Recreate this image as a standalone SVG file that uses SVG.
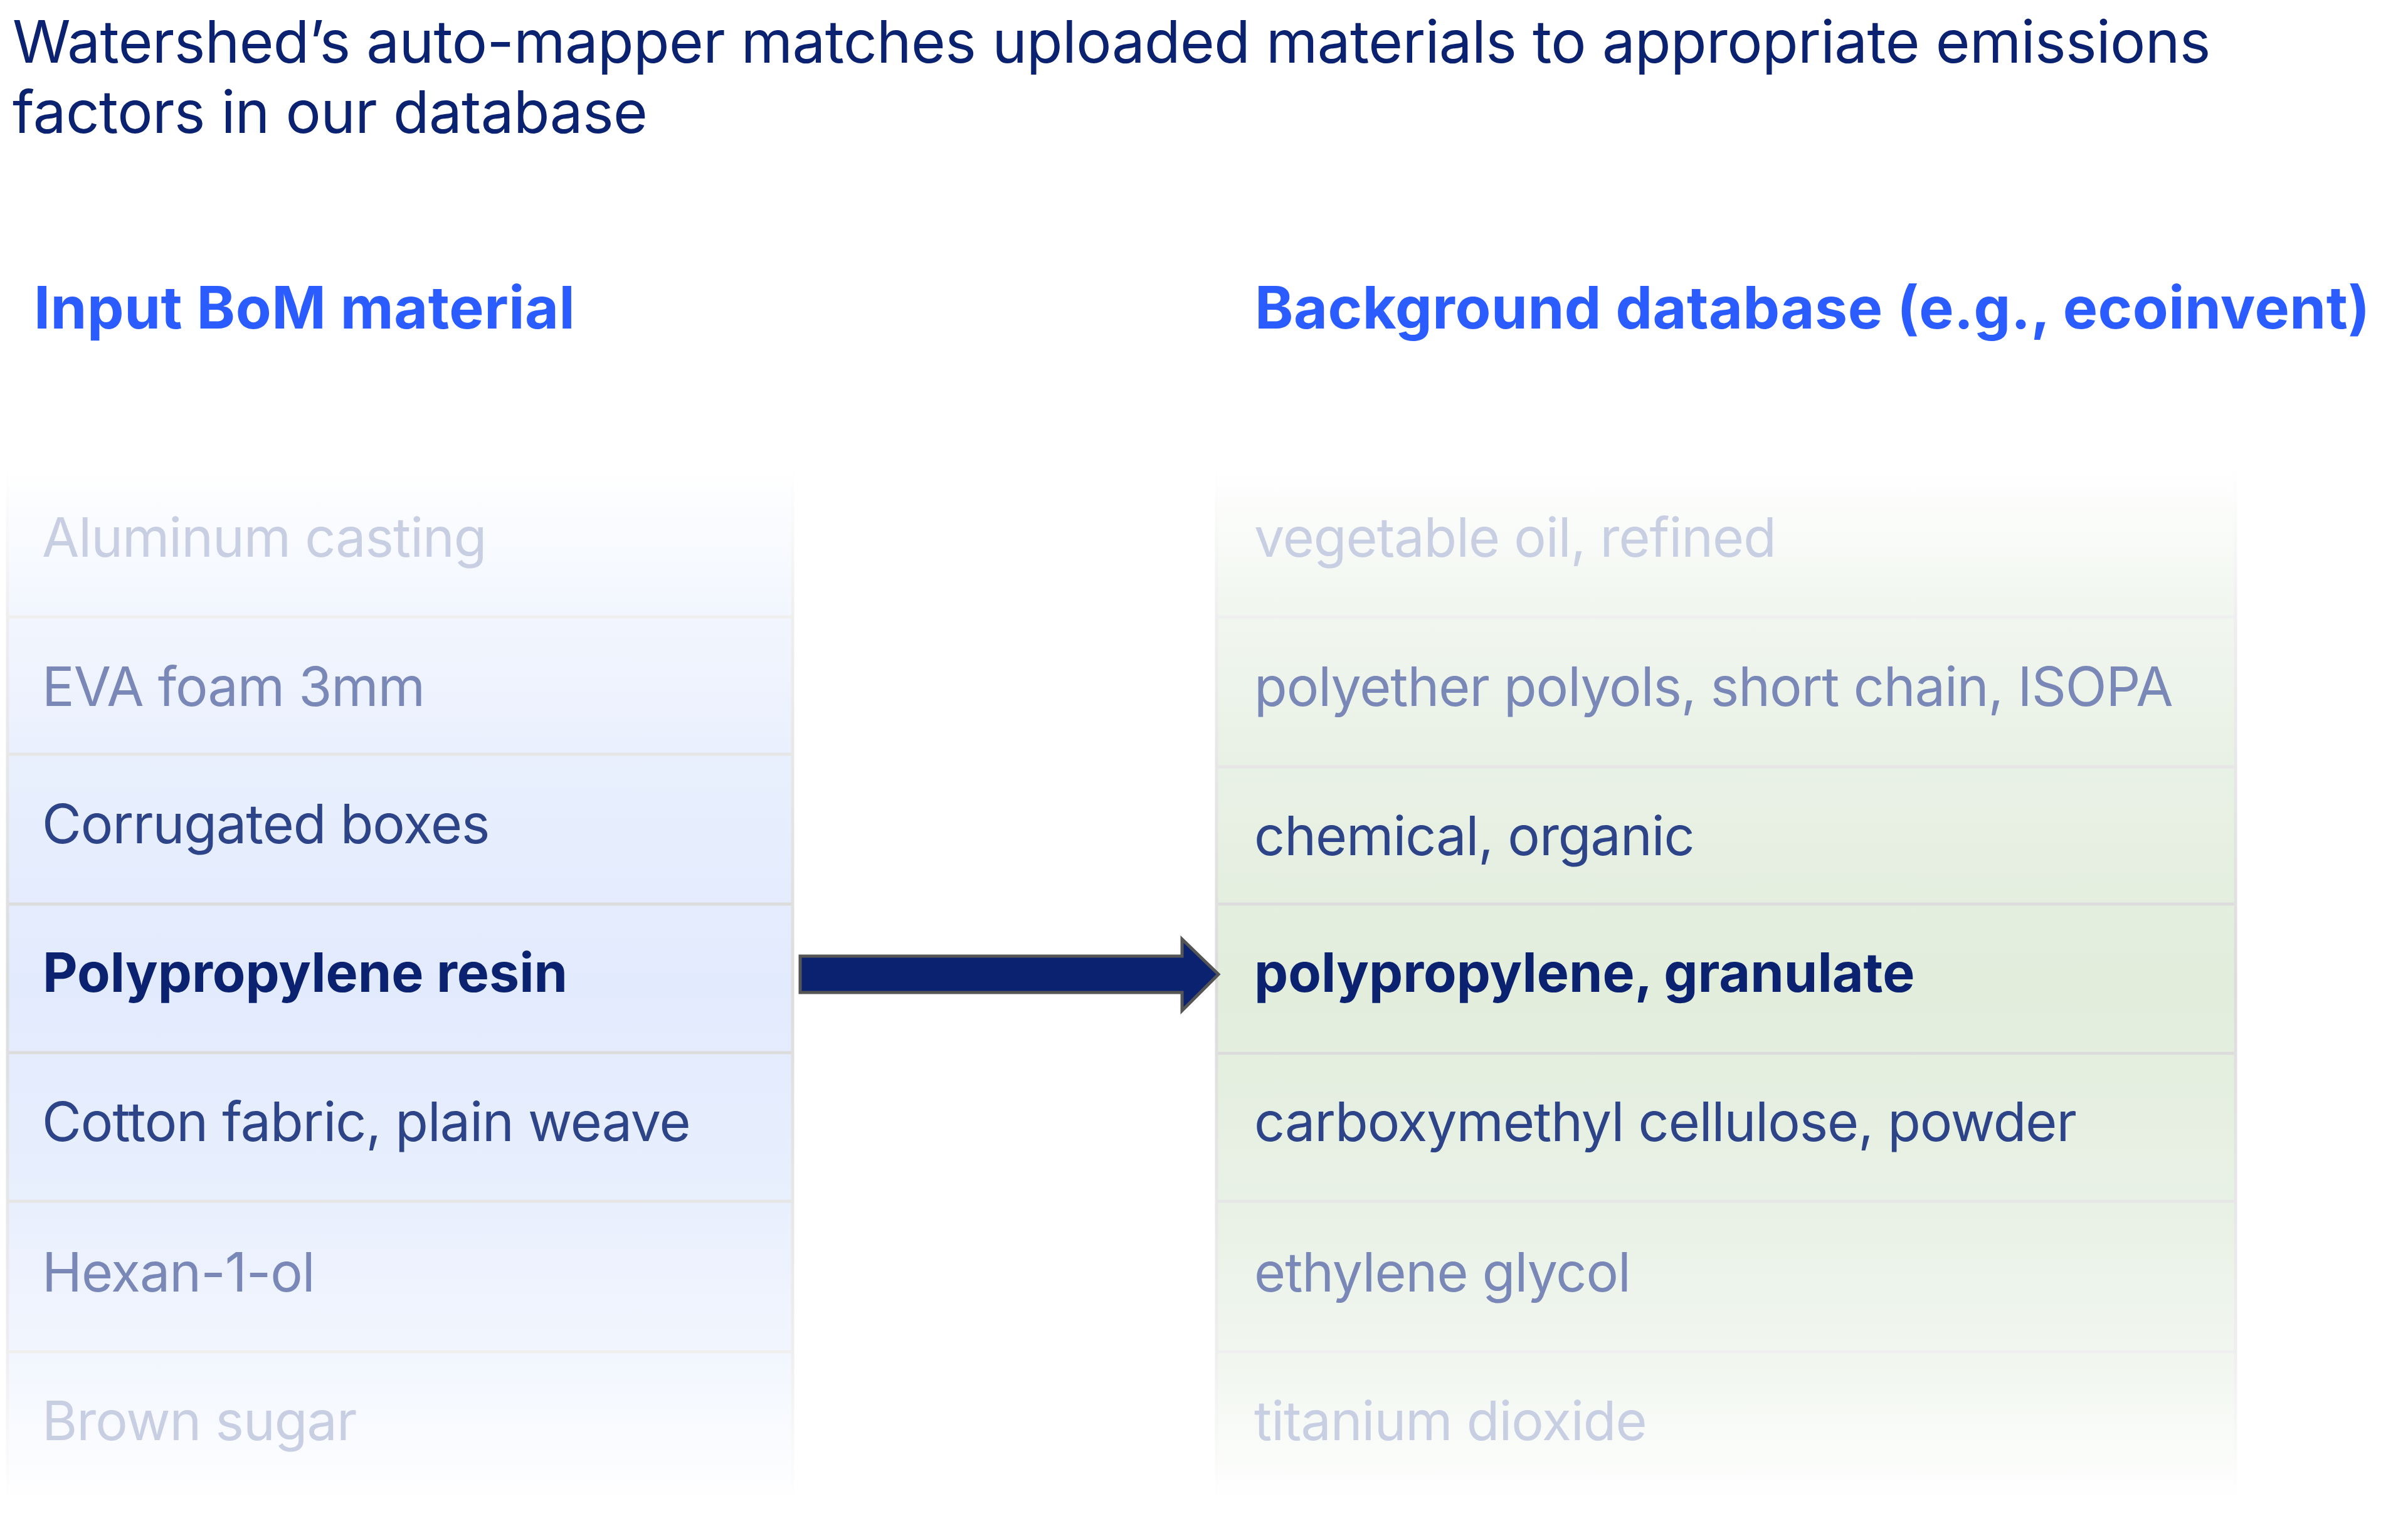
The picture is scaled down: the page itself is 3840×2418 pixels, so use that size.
<svg xmlns="http://www.w3.org/2000/svg" width="3840" height="2418" viewBox="0 0 3840 2418">
<defs>
<linearGradient id="gBlue" gradientUnits="userSpaceOnUse" x1="0" y1="745" x2="0" y2="2397">
<stop offset="0" stop-color="#FFFFFF"/>
<stop offset="0.14" stop-color="#F2F6FE"/>
<stop offset="0.3" stop-color="#E8EFFD"/>
<stop offset="0.5" stop-color="#E2EAFD"/>
<stop offset="0.7" stop-color="#E8EFFD"/>
<stop offset="0.86" stop-color="#F2F6FE"/>
<stop offset="1" stop-color="#FFFFFF"/>
</linearGradient>
<linearGradient id="gGreen" gradientUnits="userSpaceOnUse" x1="0" y1="745" x2="0" y2="2397">
<stop offset="0" stop-color="#FFFFFF"/>
<stop offset="0.14" stop-color="#F1F6EF"/>
<stop offset="0.3" stop-color="#E8F1E5"/>
<stop offset="0.5" stop-color="#E2EDDC"/>
<stop offset="0.7" stop-color="#E8F1E5"/>
<stop offset="0.86" stop-color="#F1F6EF"/>
<stop offset="1" stop-color="#FFFFFF"/>
</linearGradient>
<linearGradient id="gBorder" gradientUnits="userSpaceOnUse" x1="0" y1="745" x2="0" y2="2397">
<stop offset="0" stop-color="#FFFFFF"/>
<stop offset="0.15" stop-color="#EEEEEE"/>
<stop offset="0.5" stop-color="#DCDCDC"/>
<stop offset="0.85" stop-color="#EEEEEE"/>
<stop offset="1" stop-color="#FFFFFF"/>
</linearGradient>
</defs>
<style>
.title{font-family:Inter,"Liberation Sans",sans-serif;font-size:94px;fill:#0B2270;letter-spacing:-0.6px}
.hdr{font-family:Inter,"Liberation Sans",sans-serif;font-size:93px;font-weight:700;fill:#2B5CFF;letter-spacing:0.5px}
.cell{font-family:Inter,"Liberation Sans",sans-serif;font-size:86px;letter-spacing:-1px}
.r1{fill:#C8CFE3}
.r2{fill:#7A88B8}
.r3{fill:#2D4488}
.r4{fill:#0B2270;font-weight:700;letter-spacing:0}
.div{stroke-width:5}
.bord{stroke:url(#gBorder);stroke-width:5;fill:none}
</style>
<rect width="3840" height="2418" fill="#FFFFFF"/>
<g id="title">
<text class="title" x="20" y="100">Watershed’s auto-mapper matches uploaded materials to appropriate emissions</text>
<text class="title" x="20" y="212">factors in our database</text>
</g>
<g id="header-input"><text class="hdr" x="54" y="524">Input BoM material</text></g>
<g id="header-db"><text class="hdr" x="2001" y="524">Background database (e.g., ecoinvent)</text></g>

<g id="table-input">
<rect x="12" y="745" width="1252" height="1652" fill="url(#gBlue)"/>
<line class="div" x1="12" y1="984" x2="1264" y2="984" stroke="#EFEFEF"/>
<line class="div" x1="12" y1="1203" x2="1264" y2="1203" stroke="#E6E6E6"/>
<line class="div" x1="12" y1="1442" x2="1264" y2="1442" stroke="#DCDCDC"/>
<line class="div" x1="12" y1="1679" x2="1264" y2="1679" stroke="#DCDCDC"/>
<line class="div" x1="12" y1="1916" x2="1264" y2="1916" stroke="#E6E6E6"/>
<line class="div" x1="12" y1="2156" x2="1264" y2="2156" stroke="#EFEFEF"/>
<line class="bord" x1="12" y1="745" x2="12" y2="2397"/>
<line class="bord" x1="1264" y1="745" x2="1264" y2="2397"/>
<text class="cell r1" x="67" y="888">Aluminum casting</text>
<text class="cell r2" x="67" y="1126">EVA foam 3mm</text>
<text class="cell r3" x="67" y="1345">Corrugated boxes</text>
<text class="cell r4" x="68" y="1582">Polypropylene resin</text>
<text class="cell r3" x="67" y="1820">Cotton fabric, plain weave</text>
<text class="cell r2" x="67" y="2060">Hexan-1-ol</text>
<text class="cell r1" x="67" y="2297">Brown sugar</text>
</g>

<g id="table-db">
<rect x="1940" y="745" width="1625" height="1652" fill="url(#gGreen)"/>
<line class="div" x1="1940" y1="984" x2="3565" y2="984" stroke="#EFEFEF"/>
<line class="div" x1="1940" y1="1223" x2="3565" y2="1223" stroke="#E6E6E6"/>
<line class="div" x1="1940" y1="1442" x2="3565" y2="1442" stroke="#DCDCDC"/>
<line class="div" x1="1940" y1="1680" x2="3565" y2="1680" stroke="#DCDCDC"/>
<line class="div" x1="1940" y1="1916" x2="3565" y2="1916" stroke="#E6E6E6"/>
<line class="div" x1="1940" y1="2156" x2="3565" y2="2156" stroke="#EFEFEF"/>
<line class="bord" x1="1940" y1="745" x2="1940" y2="2397"/>
<line class="bord" x1="3565" y1="745" x2="3565" y2="2397"/>
<text class="cell r1" x="2000" y="888">vegetable oil, refined</text>
<text class="cell r2" x="2000" y="1126">polyether polyols, short chain, ISOPA</text>
<text class="cell r3" x="2000" y="1364">chemical, organic</text>
<text class="cell r4" x="2000" y="1582">polypropylene, granulate</text>
<text class="cell r3" x="2000" y="1820">carboxymethyl cellulose, powder</text>
<text class="cell r2" x="2000" y="2060">ethylene glycol</text>
<text class="cell r1" x="2000" y="2297">titanium dioxide</text>
</g>

<g id="connectors">
<polygon points="1276,1525 1885,1525 1885,1498 1943,1554 1885,1612 1885,1583 1276,1583" fill="#0B2270" stroke="#555555" stroke-width="5" stroke-linejoin="miter"/>
</g>
</svg>
